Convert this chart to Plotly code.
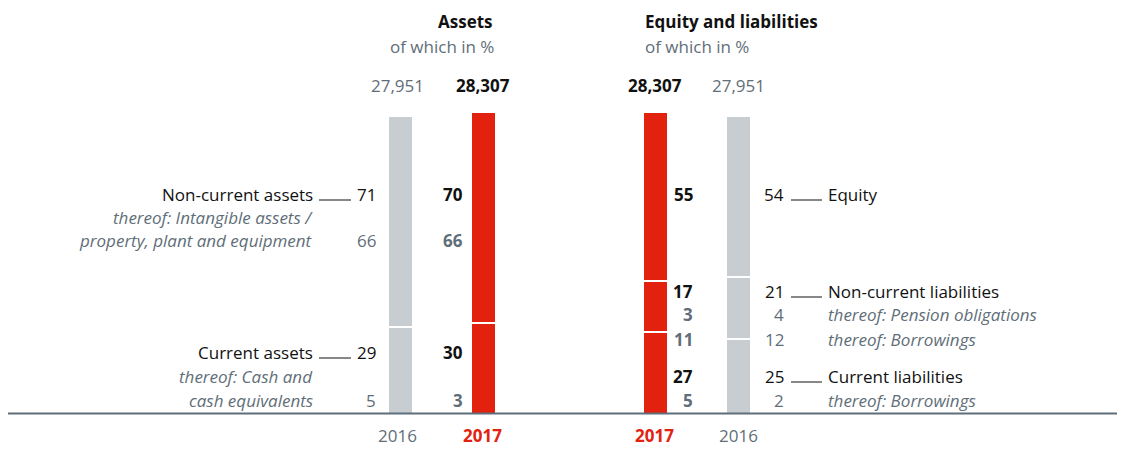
import plotly.graph_objects as go

# ---------------- data ----------------
years = ["2016", "2017"]
total_2016 = 27951
total_2017 = 28307

asset_cats = ["Non-current assets", "Current assets"]          # top -> bottom
assets_2016 = [71, 29]
assets_2017 = [70, 30]
asset_sub_labels = [["thereof: Intangible assets /", "property, plant and equipment"],
                    ["thereof: Cash and", "cash equivalents"]]
asset_sub_2016 = [66, 5]
asset_sub_2017 = [66, 3]

eq_cats = ["Equity", "Non-current liabilities", "Current liabilities"]  # top -> bottom
eq_2016 = [54, 21, 25]
eq_2017 = [55, 17, 27]
eq_sub_labels = [[], ["thereof: Pension obligations", "thereof: Borrowings"], ["thereof: Borrowings"]]
eq_sub_2016 = [[], [4, 12], [2]]
eq_sub_2017 = [[], [3, 11], [5]]

# ---------------- style / layout ----------------
W, H = 1125, 450
OFF = 8                  # page margin of the html body
RED = "#E3210F"
GREY_BAR = "#C8CDD1"
SLATE = "#5F6E78"
BLACK = "#111111"
FONT = "Open Sans"
FS = 17

BASE_PX = 413.5          # page pixel row of the zero line
TOP_PX = 112.0           # page pixel row of the 2017 total
k = (BASE_PX - TOP_PX) / total_2017   # pixels per unit
ymin = -(H - (BASE_PX - OFF)) / k
ymax = (BASE_PX - OFF) / k


def Y(p):
    return (BASE_PX - p) / k


def X(p):
    return p - OFF


X_A16, X_A17, X_E17, X_E16 = 400.5, 483.5, 655.5, 738.5
BW = 25

fig = go.Figure()


def add_stack(x, pcts_top_down, total, color):
    pcts = list(reversed(pcts_top_down))
    base = 0.0
    for i, p in enumerate(pcts):
        h = p / 100 * total if i < len(pcts) - 1 else total - base
        fig.add_trace(go.Bar(x=[X(x)], y=[h], base=[base], width=BW,
                             marker=dict(color=color, line=dict(color="white", width=2)),
                             hoverinfo="skip", showlegend=False))
        base += h


add_stack(X_A16, assets_2016, total_2016, GREY_BAR)
add_stack(X_A17, assets_2017, total_2017, RED)
add_stack(X_E17, eq_2017, total_2017, RED)
add_stack(X_E16, eq_2016, total_2016, GREY_BAR)

ann = []


def txt(x, p, s, anchor, color=BLACK, bold=False, italic=False, size=FS):
    t = f"<b>{s}</b>" if bold else s
    t = f"<i>{t}</i>" if italic else t
    ann.append(dict(x=X(x), y=Y(p), xref="x", yref="y", text=t, showarrow=False,
                    xanchor=anchor, yanchor="middle",
                    font=dict(family=FONT, size=size, color=color)))


shapes = []


def leader(x0, x1, p):
    shapes.append(dict(type="line", xref="x", yref="y", x0=X(x0), x1=X(x1), y0=Y(p), y1=Y(p),
                       line=dict(color=BLACK, width=1)))


# headers
txt(495, 21, "Assets", "right", BLACK, bold=True)
txt(496, 46, "of which in %", "right", SLATE)
txt(643, 21, "Equity and liabilities", "left", BLACK, bold=True)
txt(643, 46, "of which in %", "left", SLATE)
txt(X_A16 - 3, 85, f"{total_2016:,}", "center", SLATE)
txt(X_A17 - 1, 85, f"{total_2017:,}", "center", BLACK, bold=True)
txt(X_E17 - 1, 85, f"{total_2017:,}", "center", BLACK, bold=True)
txt(X_E16, 85, f"{total_2016:,}", "center", SLATE)

# years
txt(X_A16 - 3, 435, years[0], "center", SLATE)
txt(X_A17 - 1, 435, years[1], "center", RED, bold=True)
txt(X_E17 - 1, 435, years[1], "center", RED, bold=True)
txt(X_E16, 435, years[0], "center", SLATE)

# assets side
asset_rows = [194, 352]
asset_sub_rows = [[217, 240], [376, 400]]
for i, cat in enumerate(asset_cats):
    r = asset_rows[i]
    txt(315, r, cat, "right", BLACK)
    leader(319, 351, r + 6)
    txt(378, r, str(assets_2016[i]), "right", BLACK)
    txt(465, r, str(assets_2017[i]), "right", BLACK, bold=True)
    subs = asset_sub_rows[i]
    for line, rr in zip(asset_sub_labels[i], subs):
        txt(315, rr, line, "right", SLATE, italic=True)
    txt(378, subs[-1], str(asset_sub_2016[i]), "right", SLATE)
    txt(465, subs[-1], str(asset_sub_2017[i]), "right", SLATE, bold=True)

# equity & liabilities side
eq_rows = [194, 291, 376]
eq_sub_rows = [[], [314, 339], [400]]
for i, cat in enumerate(eq_cats):
    r = eq_rows[i]
    txt(695, r, str(eq_2017[i]), "right", BLACK, bold=True)
    txt(786, r, str(eq_2016[i]), "right", BLACK)
    leader(791, 822, r + 6)
    txt(826, r, cat, "left", BLACK)
    for j, rr in enumerate(eq_sub_rows[i]):
        txt(695, rr, str(eq_sub_2017[i][j]), "right", SLATE, bold=True)
        txt(786, rr, str(eq_sub_2016[i][j]), "right", SLATE)
        txt(826, rr, eq_sub_labels[i][j], "left", SLATE, italic=True)

# baseline
shapes.append(dict(type="line", xref="x", yref="y", x0=0, x1=W, y0=0, y1=0,
                   line=dict(color=SLATE, width=2)))

fig.update_layout(
    width=W, height=H, margin=dict(l=0, r=0, t=0, b=0),
    paper_bgcolor="white", plot_bgcolor="white",
    barmode="overlay", bargap=0,
    xaxis=dict(range=[0, W], visible=False, fixedrange=True),
    yaxis=dict(range=[ymin, ymax], visible=False, fixedrange=True),
    annotations=ann, shapes=shapes,
    font=dict(family=FONT, size=FS),
)

fig.write_html("out.html")
